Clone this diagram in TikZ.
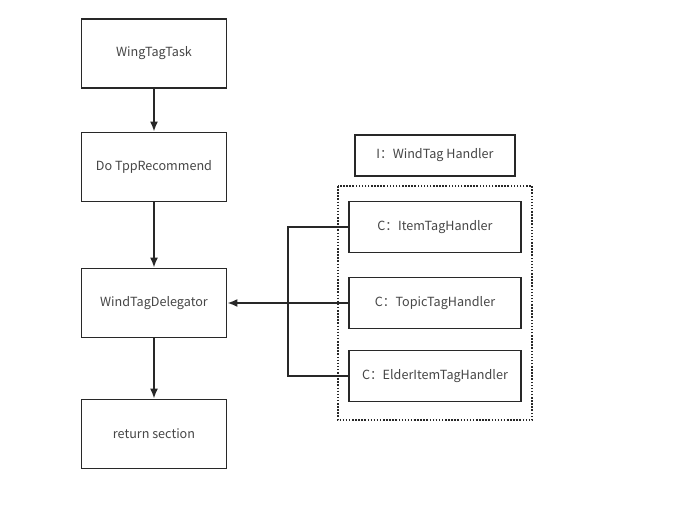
\documentclass[tikz,border=0pt]{standalone}
\usepackage{fontspec}
\setmainfont{Noto Sans CJK SC}
\usepackage{xcolor}
\usepackage{tikz}
\usetikzlibrary{arrows.meta}
\definecolor{GrisLinea}{RGB}{40,40,40}
\definecolor{GrisTexto}{RGB}{70,70,70}

\tikzset{
  caja/.style={draw=GrisLinea,line width=1.8pt,fill=white,text=GrisTexto,
    font=\fontsize{12.6}{14}\selectfont,inner sep=0pt},
  paso/.style={caja,minimum width=145pt,minimum height=69pt},
  manejador/.style={caja,minimum width=172pt,minimum height=51pt},
  enlace/.style={draw=GrisLinea,line width=1.8pt},
}

\begin{document}
\begin{tikzpicture}[x=1pt,y=-1pt,>={Latex[length=10pt,width=8pt]}]
  \useasboundingbox (0,0) rectangle (674,506);

  % flujo principal
  \node[paso] (tarea) at (154,53.5) {WingTagTask};
  \node[paso] (recom) at (154,167) {Do TppRecommend};
  \node[paso] (deleg) at (154,303) {WindTagDelegator};
  \node[paso] (retorno) at (154,434) {return section};

  \draw[enlace,->] (tarea) -- (recom);
  \draw[enlace,->] (recom) -- (deleg);
  \draw[enlace,->] (deleg) -- (retorno);

  % interfaz y manejadores
  \node[caja,minimum width=160pt,minimum height=41pt] (iface) at (435,155.5)
       {I：WindTag Handler};
  \draw[GrisLinea,line width=1.6pt,dash pattern=on 1.5pt off 1.6pt]
       (338,186) rectangle (532,420);
  \node[manejador] (item) at (435,227) {C：ItemTagHandler};
  \node[manejador] (topic) at (435,303) {C：TopicTagHandler};
  \node[manejador] (elder) at (435,376) {C：ElderItemTagHandler};

  \coordinate (bus) at (288,0);
  \draw[enlace] (item.west) -- (item.west -| bus) -- (elder.west -| bus)
       -- (elder.west);
  \draw[enlace,->] (topic.west) -- (deleg.east);
\end{tikzpicture}
\end{document}
